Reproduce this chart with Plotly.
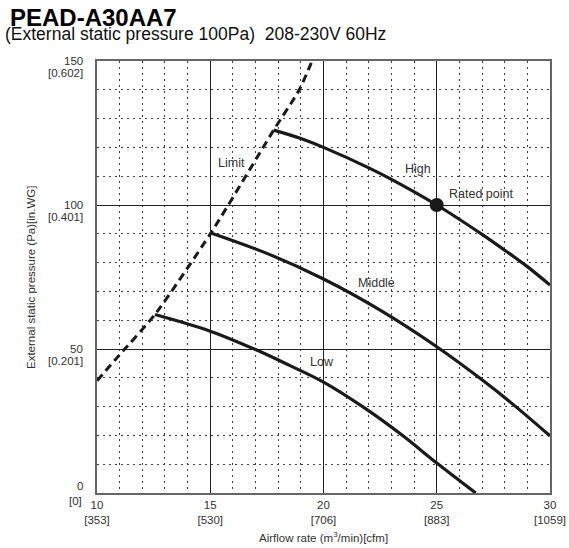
import plotly.graph_objects as go

# ---- data ----
limit_x = [10.0, 11.0, 12.56, 15.03, 17.8, 18.93, 19.6]
limit_y = [39.0, 48.0, 62.0, 90.3, 126.0, 140.0, 152.0]

high_x = [17.8, 19.0, 20.0, 22.0, 23.0, 25.0, 27.0, 28.0, 29.0, 30.0]
high_y = [126.0, 123.1, 120.0, 112.9, 108.9, 100.0, 89.8, 84.3, 78.6, 72.2]

middle_x = [15.03, 17.5, 20.0, 22.5, 25.0, 27.0, 28.5, 30.0]
middle_y = [90.3, 83.2, 74.3, 63.5, 50.8, 39.3, 29.9, 19.8]

low_x = [12.56, 15.0, 17.0, 18.5, 20.0, 21.76, 23.45, 25.0, 26.72]
low_y = [62.0, 56.2, 49.8, 44.3, 38.5, 29.8, 20.2, 10.4, 0.0]

rated_x = [25.0]
rated_y = [100.0]

label_text = ["Limit", "High", "Rated point", "Middle", "Low"]
label_x = [15.92, 24.18, 26.95, 22.36, 19.95]
label_y = [114.7, 112.4, 103.7, 72.9, 45.4]

xtick_vals = [10, 15, 20, 25, 30]
xtick_cfm = ["[353]", "[530]", "[706]", "[883]", "[1059]"]
ytick_vals = [0, 50, 100, 150]
ytick_inwg = ["[0]", "[0.201]", "[0.401]", "[0.602]"]

title_text = "PEAD-A30AA7"
subtitle_text = "(External static pressure 100Pa)  208-230V 60Hz"
x_title = "Airflow rate (m<sup>3</sup>/min)[cfm]"
y_title = "External static pressure (Pa)[in.WG]"

FONT = "Liberation Sans, Arial, sans-serif"
INK = "#1a1a1a"
TXT = "#333333"

fig = go.Figure()

fig.add_trace(go.Scatter(x=limit_x, y=limit_y, mode="lines",
                         line=dict(color=INK, width=3, dash="8px,5px", shape="spline", smoothing=0.6),
                         hoverinfo="skip", showlegend=False))
for xs, ys in [(high_x, high_y), (middle_x, middle_y), (low_x, low_y)]:
    fig.add_trace(go.Scatter(x=xs, y=ys, mode="lines",
                             line=dict(color=INK, width=3.2, shape="spline", smoothing=1.0),
                             hoverinfo="skip", showlegend=False))
fig.add_trace(go.Scatter(x=rated_x, y=rated_y, mode="markers",
                         marker=dict(color=INK, size=14, line=dict(width=0)),
                         hoverinfo="skip", showlegend=False, cliponaxis=False))

annotations = []
for t, lx, ly in zip(label_text, label_x, label_y):
    annotations.append(dict(x=lx, y=ly, xref="x", yref="y", text=t, showarrow=False,
                            font=dict(family=FONT, size=12.5, color=TXT)))

# y tick labels (two lines: Pa and in.WG)
for v, b in zip(ytick_vals, ytick_inwg):
    top_shift = 7 if v == 0 else 0
    bot_shift = -8 if v == 0 else -12
    bx = -13 if v == 0 else -12
    annotations.append(dict(x=0, xref="paper", y=v, yref="y", text=str(v), showarrow=False,
                            xanchor="right", yanchor="middle", xshift=-12, yshift=top_shift,
                            font=dict(family=FONT, size=11.5, color=TXT)))
    annotations.append(dict(x=0, xref="paper", y=v, yref="y", text=b, showarrow=False,
                            xanchor="right", yanchor="middle", xshift=bx, yshift=bot_shift,
                            font=dict(family=FONT, size=11.5, color=TXT)))

annotations.append(dict(x=0.5, xref="paper", y=-0.1019, yref="paper", text=x_title, showarrow=False,
                        xanchor="center", yanchor="middle",
                        font=dict(family=FONT, size=11.5, color=TXT)))
annotations.append(dict(x=-0.1457, xref="paper", y=0.5, yref="paper", text=y_title, showarrow=False,
                        textangle=-90, xanchor="center", yanchor="middle",
                        font=dict(family=FONT, size=11.5, color=TXT)))
annotations.append(dict(x=-0.2075, xref="paper", y=1.062, yref="paper", text=subtitle_text,
                        showarrow=False, xanchor="left", yanchor="middle",
                        font=dict(family=FONT, size=17.5, color="#111111")))

fig.update_layout(
    width=569, height=548,
    margin=dict(l=97, r=19, t=61, b=55, pad=0),
    paper_bgcolor="white", plot_bgcolor="white",
    template="none",
    title=dict(text="<b>" + title_text + "</b>", x=10 / 569, xref="container", xanchor="left",
               y=1 - 17.5 / 548, yref="container", yanchor="middle",
               font=dict(family=FONT, size=24, color="#000000")),
    annotations=annotations,
    showlegend=False,
)

fig.update_xaxes(
    range=[10, 30], tickvals=xtick_vals,
    ticktext=[f"{v}<br>{c}" for v, c in zip(xtick_vals, xtick_cfm)],
    tickfont=dict(family=FONT, size=11.5, color=TXT), ticks="", automargin=False,
    showgrid=True, gridcolor="#222222", gridwidth=1, griddash="solid",
    minor=dict(dtick=1, tick0=10, showgrid=True, gridcolor="#444444", gridwidth=1, griddash="2px,4px", ticks=""),
    showline=True, linecolor="#666666", linewidth=1.5, mirror=True, zeroline=False, fixedrange=True,
)
fig.update_yaxes(
    range=[0, 150], tickvals=ytick_vals, showticklabels=False, ticks="", automargin=False,
    showgrid=True, gridcolor="#222222", gridwidth=1, griddash="solid",
    minor=dict(dtick=10, tick0=0, showgrid=True, gridcolor="#444444", gridwidth=1, griddash="2px,4px", ticks=""),
    showline=True, linecolor="#666666", linewidth=1.5, mirror=True, zeroline=False, fixedrange=True,
)

fig.write_html("out.html", config={"displayModeBar": False},
               post_script="document.body.style.margin='0';document.body.style.padding='0';")
